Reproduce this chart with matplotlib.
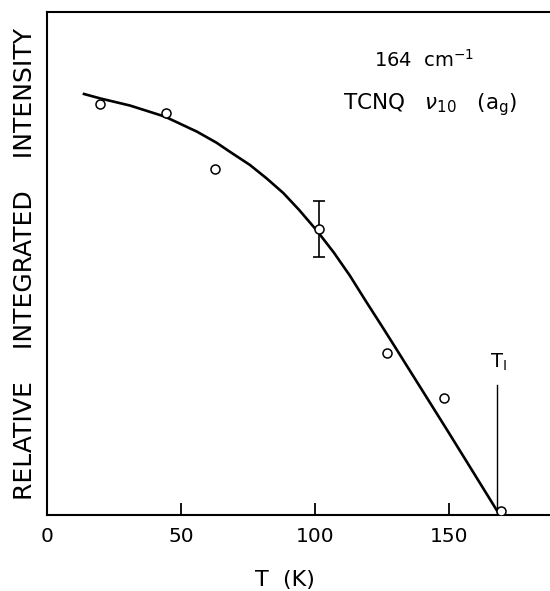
import matplotlib
matplotlib.use("Agg")
import matplotlib.pyplot as plt

# Measured points (T in K, relative integrated intensity, arbitrary units)
temps = [19.8, 44.3, 62.7, 101.6, 127.0, 148.3, 169.6]
intens = [0.818, 0.799, 0.687, 0.568, 0.322, 0.233, 0.007]
err_T = [101.6]
err_I = [0.568]
err_size = [0.056]

# Drawn guide curve
curve_T = [13.8, 20, 31, 44, 56, 63.3, 68, 75.7, 82, 88.2, 94, 100.6, 107,
           113, 119, 125.5, 130, 150, 168]
curve_I = [0.837, 0.828, 0.814, 0.792, 0.762, 0.740, 0.723, 0.696, 0.669, 0.640,
           0.607, 0.566, 0.522, 0.476, 0.425, 0.371, 0.333, 0.163, 0.008]

T1 = 168.0
T1_top = 0.258

xticks = [0, 50, 100, 150]

plt.rcParams['font.family'] = ['DejaVu Sans']

fig = plt.figure(figsize=(5.5, 5.91), dpi=100)
ax = fig.add_axes([47/550, 76/591, 503/550, 503/591])

ax.plot(curve_T, curve_I, color='black', lw=1.9, solid_joinstyle='round')
ax.plot(temps, intens, 'o', mfc='white', mec='black', ms=6.5, mew=1.1, zorder=3)
ax.errorbar(err_T, err_I, yerr=err_size, fmt='none', ecolor='black', elinewidth=1.2,
            capsize=4, capthick=1.2, zorder=2)
ax.plot([T1, T1], [0, T1_top], color='black', lw=1.0)
ax.text(T1 + 0.5, T1_top + 0.045, r'T$_\mathregular{I}$', fontsize=14, ha='center', va='center')

ax.text(0.65, 0.905, r'164  cm$^\mathregular{-1}$', transform=ax.transAxes, fontsize=14,
        ha='left', va='center')
ax.text(0.588, 0.815, r'TCNQ   $\nu_\mathregular{10}$   (a$_\mathregular{g}$)',
        transform=ax.transAxes, fontsize=15.5, ha='left', va='center')

ax.set_xlim(0, 187.7)
ax.set_ylim(0, 1.0)
ax.set_xticks(xticks)
ax.set_xticklabels([str(t) for t in xticks])
ax.set_yticks([])
ax.tick_params(axis='x', direction='in', length=9, width=1.3, labelsize=14.5, pad=9)
for s in ['left', 'bottom', 'top']:
    ax.spines[s].set_linewidth(1.5)
ax.spines['right'].set_visible(False)

ax.set_xlabel('T  (K)', fontsize=16, va='center')
ax.xaxis.set_label_coords(0.473, -0.129)
ax.set_ylabel('RELATIVE    INTEGRATED    INTENSITY', fontsize=18, va='center')
ax.yaxis.set_label_coords(-0.044, 0.5)

fig.savefig('out.png', dpi=100)
